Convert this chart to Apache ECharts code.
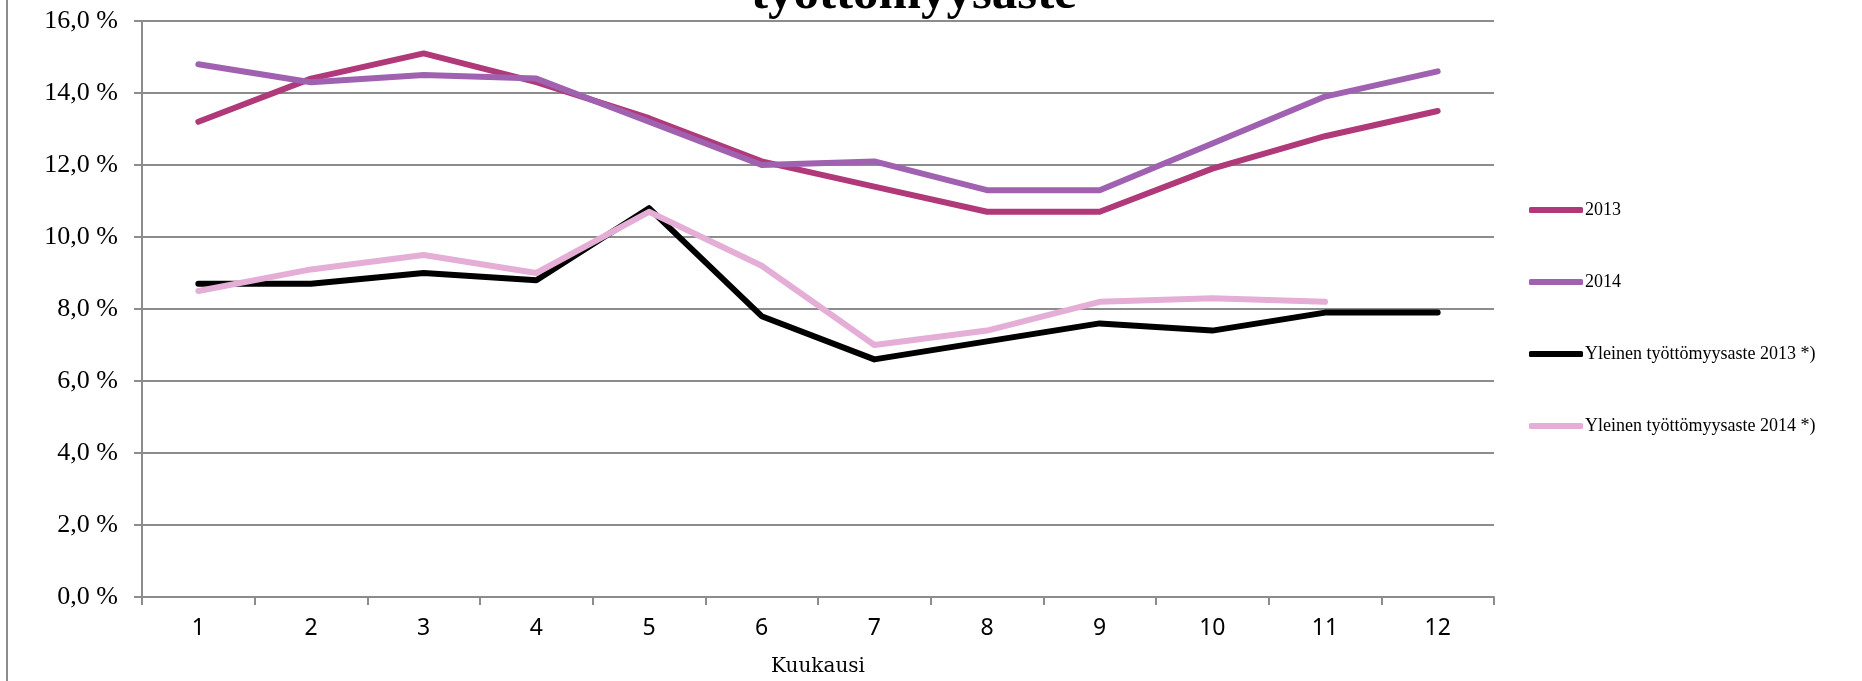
<!DOCTYPE html>
<html>
<head>
<meta charset="utf-8">
<script src="https://cdn.jsdelivr.net/npm/echarts@6/dist/echarts.min.js"></script>
<style>
html,body{margin:0;padding:0;background:#fff;}
#chart{width:1862px;height:681px;}
</style>
</head>
<body>
<div id="chart"></div>
<script>
const months = ['1','2','3','4','5','6','7','8','9','10','11','12'];
const seriesNames = ['2013','2014','Yleinen työttömyysaste 2013 *)','Yleinen työttömyysaste 2014 *)'];
const youth2013 = [13.2,14.4,15.1,14.3,13.3,12.1,11.4,10.7,10.7,11.9,12.8,13.5];
const youth2014 = [14.8,14.3,14.5,14.4,13.2,12.0,12.1,11.3,11.3,12.6,13.9,14.6];
const general2013 = [8.7,8.7,9.0,8.8,10.8,7.8,6.6,7.1,7.6,7.4,7.9,7.9];
const general2014 = [8.5,9.1,9.5,9.0,10.7,9.2,7.0,7.4,8.2,8.3,8.2,null];
const colors = ['#B0397A','#A062B0','#000000','#E4AED6'];
const titleText = 'työttömyysaste';
const xAxisTitle = 'Kuukausi';

const chart = echarts.init(document.getElementById('chart'));
const dataSets = [youth2013, youth2014, general2013, general2014];
const serif = '"Liberation Serif", "DejaVu Serif", serif';
const wideSerif = '"DejaVu Serif", "Liberation Serif", serif';
const sans = '"Noto Sans", "Open Sans", sans-serif';

chart.setOption({
  animation: false,
  backgroundColor: '#ffffff',
  color: colors,
  graphic: [
    {type:'line', shape:{x1:7,y1:0,x2:7,y2:681}, style:{stroke:'#8c8c8c', lineWidth:2}},
    {type:'text', left: 751, top: -31, style:{text:titleText, font:'bold 51px ' + serif, fill:'#000'}}
  ],
  grid: {left:142, right:368, top:21, bottom:84, containLabel:false, outerBoundsMode:'none'},
  legend: {
    orient:'vertical', left:1524, top:195, itemWidth:54, itemHeight:6, itemGap:52,
    icon:'roundRect',
    textStyle:{fontFamily:serif, fontSize:18, color:'#000', lineHeight:20, padding:[0,0,0,-3]},
    data: seriesNames
  },
  xAxis: {
    type:'category', data: months, boundaryGap:true,
    name: xAxisTitle, nameLocation:'middle', nameGap:60,
    nameTextStyle:{fontFamily:wideSerif, fontSize:20, color:'#000'},
    axisLine:{lineStyle:{color:'#8c8c8c', width:2}},
    axisTick:{show:true, length:8, lineStyle:{color:'#8c8c8c', width:2}},
    axisLabel:{fontFamily:sans, fontSize:23, color:'#000', margin:20}
  },
  yAxis: {
    type:'value', min:0, max:16, interval:2,
    axisLine:{show:true, lineStyle:{color:'#8c8c8c', width:2}},
    axisTick:{show:true, length:8, lineStyle:{color:'#8c8c8c', width:2}},
    splitLine:{lineStyle:{color:'#8c8c8c', width:2}},
    axisLabel:{fontFamily:serif, fontSize:26, color:'#000', margin:24,
      formatter: v => v.toFixed(1).replace('.', ',') + ' %'}
  },
  series: dataSets.map((d,i) => ({
    name: seriesNames[i], type:'line', data:d, symbol:'none', showSymbol:false,
    connectNulls:false,
    lineStyle:{width:6, color:colors[i], cap:'round', join:'round'},
    itemStyle:{color:colors[i]},
    z: 2 + (i===1||i===3 ? 1 : 0)
  }))
});
</script>
</body>
</html>
